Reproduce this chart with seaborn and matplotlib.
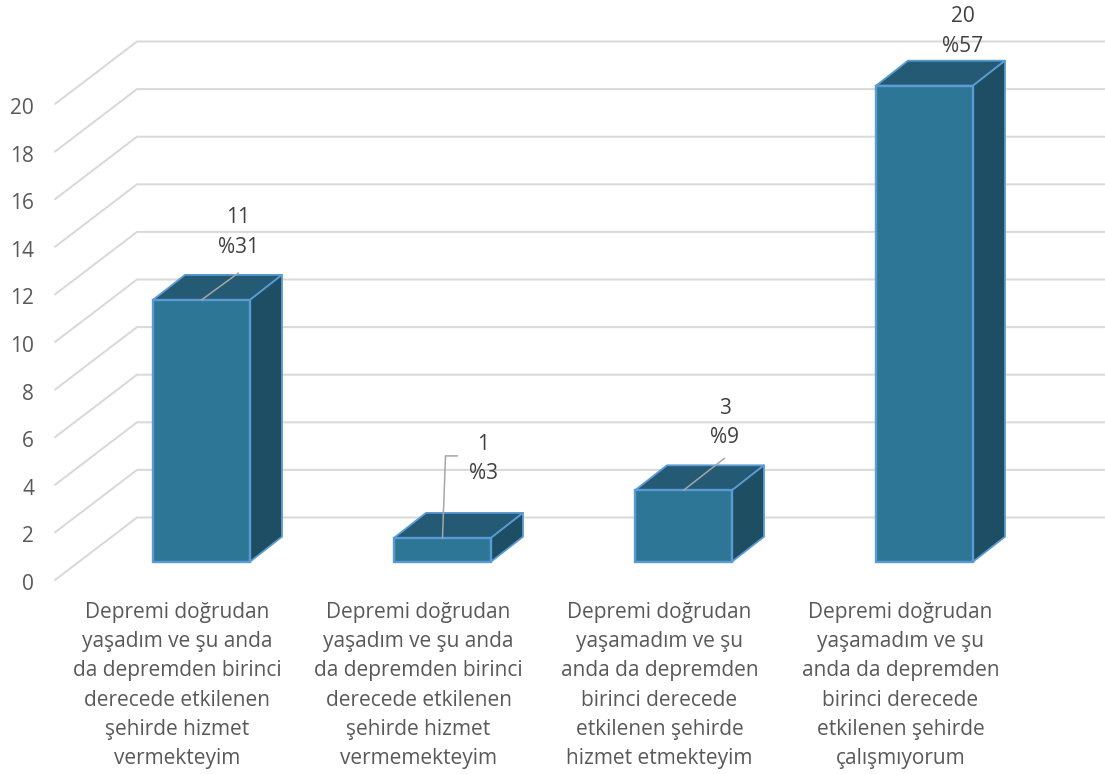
import matplotlib
matplotlib.use('Agg')
import matplotlib.pyplot as plt
import pandas as pd
import seaborn as sns
from matplotlib.patches import Polygon

# chart values
categories = [
    'Depremi doğrudan\nyaşadım ve şu anda\nda depremden birinci\nderecede etkilenen\nşehirde hizmet\nvermekteyim',
    'Depremi doğrudan\nyaşadım ve şu anda\nda depremden birinci\nderecede etkilenen\nşehirde hizmet\nvermemekteyim',
    'Depremi doğrudan\nyaşamadım ve şu\nanda da depremden\nbirinci derecede\netkilenen şehirde\nhizmet etmekteyim',
    'Depremi doğrudan\nyaşamadım ve şu\nanda da depremden\nbirinci derecede\netkilenen şehirde\nçalışmıyorum',
]
counts = [11, 1, 3, 20]
percents = ['%31', '%3', '%9', '%57']
y_ticks = list(range(0, 21, 2))

# layout, all in pixels of the 1105x774 picture
W, H = 1105, 774
AX_LEFT, AX_BOTTOM = 55, 584
FLOOR_FRONT = 580
BAR_BASE = 561.7
PX_PER_UNIT = 23.8
PX_PER_CAT = 241
FIRST_BAR = 201.5
WALL_DX, WALL_DY = 82, 62.5
BAR_DX, BAR_DY = 32, 25
FONT_SIZE = 15

FRONT = '#2E7696'
TOP = '#245A73'
SIDE = '#1E4E63'
EDGE = '#5B9BD5'
GRID = '#D9D9D9'

sns.set_theme(style='white')
plt.rcParams['font.family'] = ['Open Sans', 'DejaVu Sans']

fig = plt.figure(figsize=(W / 100, H / 100), dpi=100)
ax = fig.add_axes([AX_LEFT / W, (H - AX_BOTTOM) / H, (W - AX_LEFT) / W, AX_BOTTOM / H])

df = pd.DataFrame({'category': categories, 'count': counts})
sns.barplot(data=df, x='category', y='count', ax=ax, color=FRONT, saturation=1,
            width=97 / PX_PER_CAT, edgecolor=EDGE, linewidth=1.7, zorder=3)

ax.set_xlim(-(FIRST_BAR - AX_LEFT) / PX_PER_CAT, (W - FIRST_BAR) / PX_PER_CAT)
ax.set_ylim(-(AX_BOTTOM - BAR_BASE) / PX_PER_UNIT, BAR_BASE / PX_PER_UNIT)
x0 = ax.get_xlim()[0]

front_shift = -(FLOOR_FRONT - BAR_BASE) / PX_PER_UNIT
wall_dx = WALL_DX / PX_PER_CAT
wall_dy = WALL_DY / PX_PER_UNIT
bar_dx = BAR_DX / PX_PER_CAT
bar_dy = BAR_DY / PX_PER_UNIT

# floor and wall lines behind the bars
for t in y_ticks:
    y = t + front_shift
    ax.plot([x0, x0 + wall_dx, ax.get_xlim()[1]], [y, y + wall_dy, y + wall_dy],
            color=GRID, lw=1.45, zorder=1, clip_on=False, solid_joinstyle='miter')

# top and side faces from the seaborn bars
for bar in list(ax.patches):
    left, w, h = bar.get_x(), bar.get_width(), bar.get_height()
    right = left + w
    top = Polygon([(left, h), (right, h), (right + bar_dx, h + bar_dy), (left + bar_dx, h + bar_dy)],
                  facecolor=TOP, edgecolor=EDGE, lw=1.3, zorder=2.5, joinstyle='round')
    side = Polygon([(right, 0), (right + bar_dx, bar_dy), (right + bar_dx, h + bar_dy), (right, h)],
                   facecolor=SIDE, edgecolor=EDGE, lw=1.3, zorder=2.5, joinstyle='round')
    ax.add_patch(top)
    ax.add_patch(side)

# data labels: text offset from the bar's top centre, plus leader line path
label_offsets = [(37, 85, 55), (41, 96, 67), (41, 84, 55), (38, 72, 42)]
leaders = [
    [(0, 0), (37, 27)],
    [(0, 0), (3, 82), (15, 82)],
    [(0, 0), (41, 32)],
    None,
]
for i, (c, p) in enumerate(zip(counts, percents)):
    dx, dy_count, dy_pct = label_offsets[i]
    ax.annotate(str(c), (i, c), xytext=(dx, dy_count), textcoords='offset pixels',
                ha='center', va='center_baseline', fontsize=FONT_SIZE, color='#404040', zorder=6,
                annotation_clip=False)
    ax.annotate(p, (i, c), xytext=(dx, dy_pct), textcoords='offset pixels',
                ha='center', va='center_baseline', fontsize=FONT_SIZE, color='#404040', zorder=6,
                annotation_clip=False)
    if leaders[i]:
        xs = [i + a / PX_PER_CAT for a, b in leaders[i]]
        ys = [c + b / PX_PER_UNIT for a, b in leaders[i]]
        ax.plot(xs, ys, color='#A6A6A6', lw=1.1, zorder=5, solid_joinstyle='miter')

# tick labels sit 2px below the end of their gridline
ax.set_yticks([t + front_shift - 2 / PX_PER_UNIT for t in y_ticks], [str(t) for t in y_ticks])
ax.set_xticks([i - 24 / PX_PER_CAT for i in range(len(categories))], categories)
ax.tick_params(axis='y', length=0, pad=15, labelsize=FONT_SIZE, labelcolor='#595959')
ax.tick_params(axis='x', length=0, pad=13, labelsize=FONT_SIZE, labelcolor='#595959')
for lab in ax.get_xticklabels():
    lab.set_linespacing(1.51)
ax.set_xlabel('')
ax.set_ylabel('')
sns.despine(ax=ax, left=True, bottom=True)
ax.patch.set_alpha(0)

fig.savefig('out.png', dpi=100)
